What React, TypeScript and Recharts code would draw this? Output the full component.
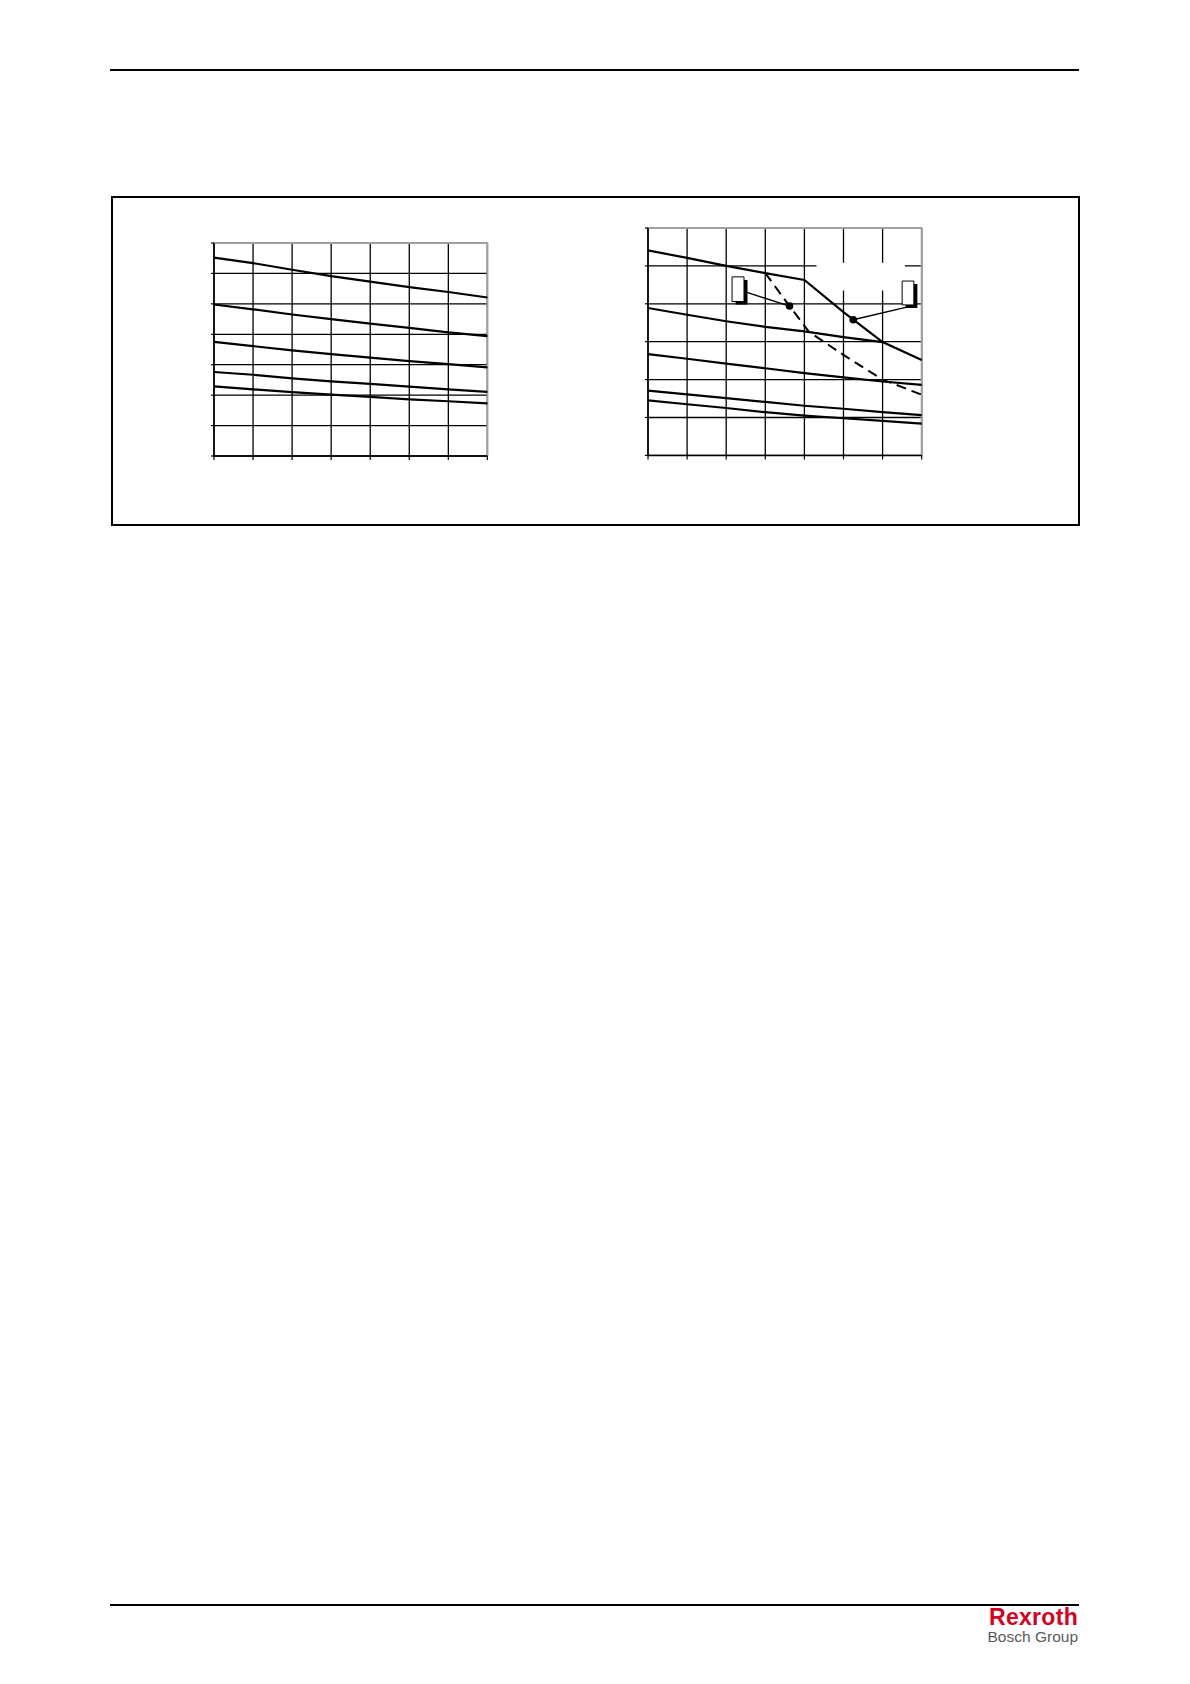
import {
  LineChart, Line, XAxis, YAxis, CartesianGrid,
  ReferenceLine, ReferenceArea, ReferenceDot,
} from 'recharts';

// ── Axis steps ─────────────────────────────────────────────────────────────

const X_STEPS = [0, 1, 2, 3, 4, 5, 6, 7];
const LEFT_Y_TICKS = [0, 1, 2, 3, 4, 5, 6, 7];
const RIGHT_Y_TICKS = [0, 1, 2, 3, 4, 5, 6];

// ── Left diagram: five falling curves ──────────────────────────────────────

const LEFT_1 = [6.52, 6.34, 6.12, 5.91, 5.73, 5.55, 5.39, 5.21];
const LEFT_2 = [4.98, 4.82, 4.65, 4.5, 4.35, 4.21, 4.06, 3.94];
const LEFT_3 = [3.75, 3.61, 3.47, 3.35, 3.23, 3.12, 3.02, 2.91];
const LEFT_4 = [2.76, 2.67, 2.55, 2.45, 2.37, 2.28, 2.19, 2.11];
const LEFT_5 = [2.29, 2.19, 2.1, 2.02, 1.94, 1.86, 1.8, 1.73];

// ── Right diagram ──────────────────────────────────────────────────────────

const RIGHT_A = [5.41, 5.21, 5.0, 4.81, 4.63, 3.78, 2.99, 2.52];
const RIGHT_B = [3.89, 3.71, 3.54, 3.39, 3.27, 3.12, 2.99]; // stops where it meets A
const RIGHT_C = [2.67, 2.55, 2.42, 2.3, 2.17, 2.06, 1.95, 1.86];
const RIGHT_D = [1.71, 1.61, 1.51, 1.41, 1.31, 1.23, 1.14, 1.06];
const RIGHT_E = [1.45, 1.35, 1.25, 1.14, 1.05, 0.98, 0.91, 0.84];

// dashed branch leaves A at x=3
const DASH_X = [3, 3.62, 4.11, 4.35, 5, 6, 7];
const DASH_Y = [4.81, 3.94, 3.27, 3.1, 2.65, 2.0, 1.6];

// callouts: marker points and their label boxes (data units)
const MARK_DASH = { x: 3.62, y: 3.94 };
const MARK_SOLID = { x: 5.25, y: 3.58 };
const BOX_DASH = { x1: 2.15, x2: 2.455, y1: 4.06, y2: 4.71 };
const BOX_SOLID = { x1: 6.5, x2: 6.8, y1: 3.97, y2: 4.6 };
const LEAD_DASH = { x: 2.53, y: 4.3 };
const LEAD_SOLID = { x: 6.78, y: 3.95 };
// blanked label area over the grid
const BLANK = { x1: 4.31, x2: 6.57, y1: 4.35, y2: 5.08 };

const leftData = X_STEPS.map((x, i) => ({
  x, l1: LEFT_1[i], l2: LEFT_2[i], l3: LEFT_3[i], l4: LEFT_4[i], l5: LEFT_5[i],
}));

const rightData = X_STEPS.map((x, i) => ({
  x, a: RIGHT_A[i], b: RIGHT_B[i], c: RIGHT_C[i], d: RIGHT_D[i], e: RIGHT_E[i],
}));

const dashData = DASH_X.map((x, i) => ({ x, v: DASH_Y[i] }));

const NoLabel = () => <g />;

const LINE = { stroke: '#000', strokeWidth: 2.2, dot: false, isAnimationActive: false, type: 'linear' as const };
const FRAME = '#a0a0a0';

function Diagram({ children, data, yTicks, yMax, left, top, plotW, plotH }: any) {
  const W = plotW + 20;
  const H = plotH + 20;
  return (
    <div style={{ position: 'absolute', left: left - 10, top: top - 10 }}>
      <LineChart width={W} height={H} data={data} margin={{ top: 10, right: 10, left: 0, bottom: 0 }}>
        <CartesianGrid stroke="#000" strokeWidth={1.3} />
        <XAxis
          dataKey="x" type="number" domain={[0, 7]} ticks={X_STEPS} interval={0}
          height={10} tickSize={4} tick={NoLabel}
          axisLine={{ stroke: '#000', strokeWidth: 1.5 }} tickLine={{ stroke: '#000', strokeWidth: 1.2 }}
        />
        <YAxis
          type="number" domain={[0, yMax]} ticks={yTicks} interval={0}
          width={10} tickSize={3} tick={NoLabel}
          axisLine={{ stroke: '#000', strokeWidth: 1.5 }} tickLine={{ stroke: '#000', strokeWidth: 1.2 }}
        />
        <ReferenceLine y={yMax} stroke={FRAME} strokeWidth={2} />
        <ReferenceLine x={7} stroke={FRAME} strokeWidth={2} />
        {children}
      </LineChart>
    </div>
  );
}

export default function App() {
  return (
    <div style={{
      position: 'absolute', left: 0, top: 0, width: 1190, height: 1684,
      background: '#fff', fontFamily: '"Liberation Sans", Arial, sans-serif',
    }}>
      {/* header rule */}
      <div style={{ position: 'absolute', left: 110, top: 69.3, width: 969, height: 1.5, background: '#000' }} />

      {/* frame round both diagrams */}
      <div style={{
        position: 'absolute', left: 110.8, top: 196.3, width: 969, height: 330,
        border: '2px solid #000', boxSizing: 'border-box',
      }} />

      <Diagram data={leftData} yTicks={LEFT_Y_TICKS} yMax={7} left={214.3} top={242.7} plotW={273.4} plotH={213}>
        <Line dataKey="l1" {...LINE} />
        <Line dataKey="l2" {...LINE} />
        <Line dataKey="l3" {...LINE} />
        <Line dataKey="l4" {...LINE} />
        <Line dataKey="l5" {...LINE} />
      </Diagram>

      <Diagram data={rightData} yTicks={RIGHT_Y_TICKS} yMax={6} left={648.3} top={228.3} plotW={273.7} plotH={227.4}>
        <ReferenceArea {...BLANK} fill="#fff" fillOpacity={1} stroke="none" />
        <Line dataKey="a" {...LINE} />
        <Line dataKey="b" {...LINE} />
        <Line dataKey="c" {...LINE} />
        <Line dataKey="d" {...LINE} />
        <Line dataKey="e" {...LINE} />
        <Line data={dashData} dataKey="v" {...LINE} strokeWidth={2} strokeDasharray="10 6" />
        <ReferenceLine segment={[LEAD_DASH, MARK_DASH]} stroke="#000" strokeWidth={1.4} />
        <ReferenceLine segment={[LEAD_SOLID, MARK_SOLID]} stroke="#000" strokeWidth={1.4} />
        <ReferenceArea x1={BOX_DASH.x1 + 0.09} x2={BOX_DASH.x2 + 0.09} y1={BOX_DASH.y1 - 0.08} y2={BOX_DASH.y2 - 0.08} fill="#000" fillOpacity={1} stroke="none" />
        <ReferenceArea {...BOX_DASH} fill="#fff" fillOpacity={1} stroke="#000" strokeWidth={1} />
        <ReferenceArea x1={BOX_SOLID.x1 + 0.09} x2={BOX_SOLID.x2 + 0.09} y1={BOX_SOLID.y1 - 0.08} y2={BOX_SOLID.y2 - 0.08} fill="#000" fillOpacity={1} stroke="none" />
        <ReferenceArea {...BOX_SOLID} fill="#fff" fillOpacity={1} stroke="#000" strokeWidth={1} />
        <ReferenceDot x={MARK_DASH.x} y={MARK_DASH.y} r={3.8} fill="#000" stroke="none" />
        <ReferenceDot x={MARK_SOLID.x} y={MARK_SOLID.y} r={3.8} fill="#000" stroke="none" />
      </Diagram>

      {/* footer rule and brand mark */}
      <div style={{ position: 'absolute', left: 110, top: 1603.5, width: 969, height: 2.2, background: '#000' }} />
      <div style={{
        position: 'absolute', right: 1190 - 1078, top: 1604, textAlign: 'right',
        fontWeight: 700, fontSize: 23, color: '#d4001f', lineHeight: '26px', letterSpacing: 0.3,
      }}>Rexroth</div>
      <div style={{
        position: 'absolute', right: 1190 - 1078, top: 1628, textAlign: 'right',
        fontSize: 15.5, color: '#5a5a5a', lineHeight: '17px',
      }}>Bosch Group</div>
    </div>
  );
}
